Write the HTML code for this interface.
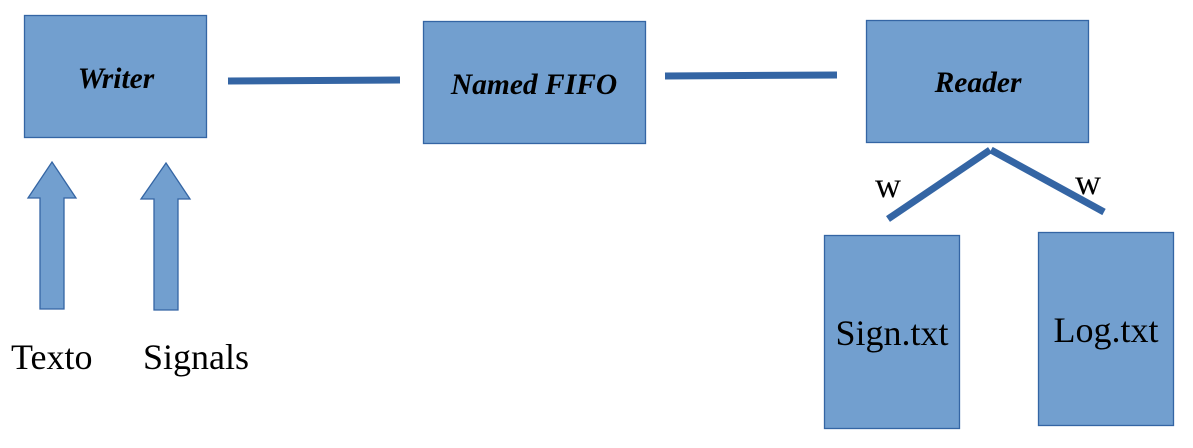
<!DOCTYPE html>
<html><head><meta charset="utf-8"><style>html,body{margin:0;padding:0;background:#fff}</style></head>
<body>
<svg width="1193" height="443" viewBox="0 0 1193 443" xmlns="http://www.w3.org/2000/svg">
<g fill="#729fcf" stroke="#3465a4" stroke-width="1.3">
<rect x="24.5" y="15.5" width="182" height="122"/>
<rect x="423.5" y="21.5" width="222" height="122"/>
<rect x="866.5" y="20.5" width="222" height="122"/>
<rect x="824.5" y="235.5" width="135" height="193"/>
<rect x="1038.5" y="232.5" width="135" height="193"/>
<polygon points="52,162 76,198 64,198 64,309 40,309 40,198 28,198"/>
<polygon points="166,163 190,199 178,199 178,310 154,310 154,199 141,199"/>
</g>
<g stroke="#3465a4" stroke-width="7" fill="none">
<line x1="228" y1="81" x2="400" y2="80"/>
<line x1="665" y1="76" x2="837" y2="75"/>
<line x1="888" y1="219" x2="990" y2="150"/>
<line x1="991" y1="150" x2="1104" y2="212"/>
</g>
<g font-family="Liberation Serif, serif" fill="#000">
<g font-weight="bold" font-style="italic" font-size="29.5" text-anchor="middle">
<text x="116" y="88">Writer</text>
<text x="534" y="94">Named FIFO</text>
<text x="978" y="92">Reader</text>
</g>
<g font-size="36" text-anchor="middle">
<text x="892" y="345">Sign.txt</text>
<text x="1106" y="342">Log.txt</text>
</g>
<text x="11" y="369" font-size="36">Texto</text>
<text x="143" y="369" font-size="36">Signals</text>
<text x="875" y="197" font-size="36">w</text>
<text x="1075" y="194" font-size="36">w</text>
</g>
</svg>
</body></html>
